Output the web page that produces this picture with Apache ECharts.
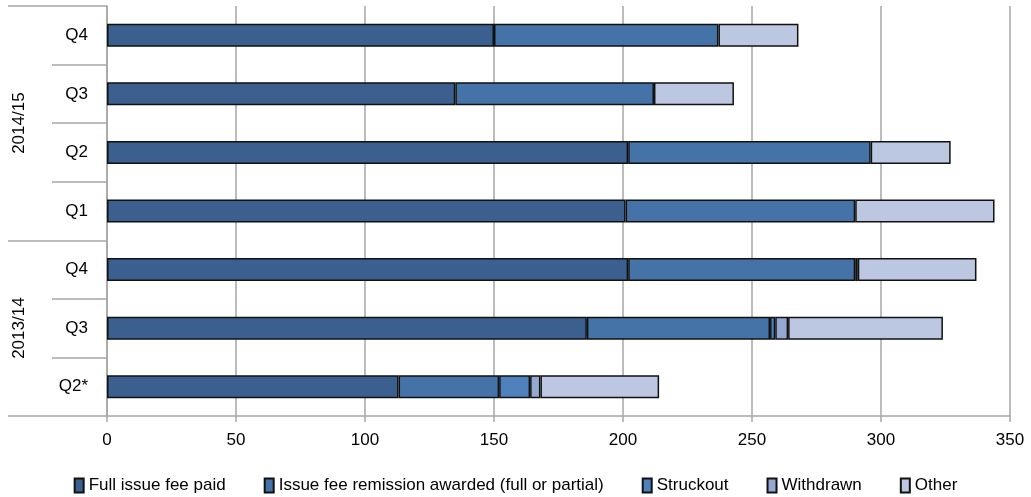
<!DOCTYPE html>
<html>
<head>
<meta charset="utf-8">
<script src="https://cdn.jsdelivr.net/npm/echarts@6/dist/echarts.min.js"></script>
<style>
  html, body { margin: 0; padding: 0; background: #fff; }
  #chart { width: 1031px; height: 497px; }
</style>
</head>
<body>
<div id="chart"></div>
<script>
// Quarters listed bottom to top; keys carry the year so repeated quarter names stay distinct
const categories = ['2013/14|Q2*', '2013/14|Q3', '2013/14|Q4', '2014/15|Q1', '2014/15|Q2', '2014/15|Q3', '2014/15|Q4'];
// Year groups: name, first and last category index
const yearGroups = [
  { name: '2013/14', from: 0, to: 3 },
  { name: '2014/15', from: 3, to: 7 }
];
const xTicks = { min: 0, max: 350, step: 50 };

const fullFeePaid   = [113, 186, 202, 201, 202, 135, 150];
const feeRemission  = [39, 71, 88, 89, 94, 77, 87];
const struckout     = [12, 2, 1, 0, 0, 0, 0];
const withdrawn     = [4, 5, 0, 0, 0, 0, 0];
const other         = [46, 60, 46, 54, 31, 31, 31];

const seriesDefs = [
  { name: 'Full issue fee paid', data: fullFeePaid, color: '#3b5f8e' },
  { name: 'Issue fee remission awarded (full or partial)', data: feeRemission, color: '#4573a7' },
  { name: 'Struckout', data: struckout, color: '#4f81bd' },
  { name: 'Withdrawn', data: withdrawn, color: '#94a8d1' },
  { name: 'Other', data: other, color: '#bcc8e1' }
];

const FONT = 'Liberation Sans';
const GRID_GREY = '#a6a6a6';

const chart = echarts.init(document.getElementById('chart'), null, { renderer: 'canvas' });

const groupCentres = yearGroups.map(g => (g.from + g.to) / 2);
const groupEdges = [0].concat(yearGroups.map(g => g.to));

chart.setOption({
  animation: false,
  backgroundColor: '#ffffff',
  grid: { left: 107, right: 21, top: 6, bottom: 81, containLabel: false },
  legend: {
    top: 472,
    left: 'center',
    icon: 'rect',
    itemWidth: 9,
    itemHeight: 14,
    itemGap: 38,
    textStyle: { fontFamily: FONT, fontSize: 17, color: '#000' },
    data: seriesDefs.map(s => s.name)
  },
  xAxis: {
    type: 'value',
    min: xTicks.min,
    max: xTicks.max,
    interval: xTicks.step,
    axisLine: { show: true, lineStyle: { color: GRID_GREY, width: 1.5 } },
    axisTick: { show: true, length: 6, lineStyle: { color: GRID_GREY, width: 1.5 } },
    axisLabel: { fontFamily: FONT, fontSize: 17, color: '#000', margin: 16 },
    splitLine: { show: true, lineStyle: { color: GRID_GREY, width: 1.5 } }
  },
  yAxis: [
    {
      type: 'category',
      data: categories,
      position: 'left',
      axisLine: { show: true, lineStyle: { color: GRID_GREY, width: 1.5 } },
      axisTick: { show: true, length: 55, lineStyle: { color: GRID_GREY, width: 1.5 } },
      axisLabel: {
        fontFamily: FONT, fontSize: 17, color: '#000', margin: 19,
        formatter: v => v.split('|')[1]
      },
      splitLine: { show: false }
    },
    {
      type: 'value',
      min: 0,
      max: categories.length,
      position: 'left',
      axisLine: { show: false },
      axisTick: {
        show: true, length: 99, customValues: groupEdges,
        lineStyle: { color: GRID_GREY, width: 1.5 }
      },
      axisLabel: {
        show: true,
        customValues: groupCentres,
        rotate: 90,
        margin: 79,
        fontFamily: FONT, fontSize: 17, color: '#000',
        formatter: v => {
          const g = yearGroups.find(gr => Math.abs((gr.from + gr.to) / 2 - v) < 1e-6);
          return g ? g.name : '';
        }
      },
      splitLine: { show: false }
    }
  ],
  series: seriesDefs.map(s => ({
    name: s.name,
    type: 'bar',
    stack: 'total',
    yAxisIndex: 0,
    barWidth: 23,
    data: s.data.map(v => (v === 0 ? '-' : v)),
    itemStyle: { color: s.color, borderColor: '#111', borderWidth: 1.5 }
  }))
});
</script>
</body>
</html>
